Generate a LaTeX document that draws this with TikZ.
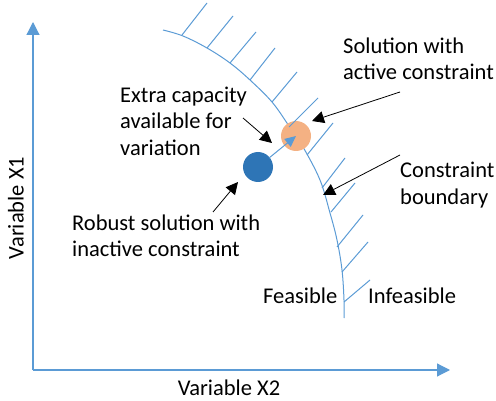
\documentclass[tikz,border=0pt]{standalone}
\usepackage{fontspec}
\setmainfont{Carlito}
\usetikzlibrary{arrows.meta}
\definecolor{axisblue}{HTML}{5B9BD5}
\definecolor{dotblue}{HTML}{2E75B6}
\definecolor{dotorange}{HTML}{F4B183}
\begin{document}
\begin{tikzpicture}[x=1pt,y=-1pt,
  lbl/.style={font=\fontsize{22.5}{26.5}\selectfont, inner sep=0pt, align=left, text=black},
  axisline/.style={draw=axisblue, line width=1.2pt, -{Triangle[length=13pt,width=13pt]}},
  bnd/.style={draw=axisblue, line width=1pt},
  hatch/.style={draw=axisblue, line width=1pt},
  dot/.style={circle, inner sep=0pt, minimum size=30pt},
  callout/.style={draw=black, line width=0.8pt, -{Triangle[length=12pt,width=12pt]}},
  moveline/.style={draw=axisblue, line width=1pt, -{Triangle[length=11pt,width=10pt]}}]
\useasboundingbox (0,0) rectangle (496,401);

% axes
\coordinate (origin) at (33,370);
\coordinate (ytop) at (33,22);
\coordinate (xend) at (450,370);
\draw[axisline] (origin) -- (ytop);
\draw[axisline] (origin) -- (xend);
\node[lbl] (xlab) at (229,388) {Variable X2};
\node[lbl, rotate=90] (ylab) at (16,208) {Variable X1};

% constraint boundary
\draw[bnd] plot[smooth, tension=0.6] coordinates {(163,30) (183,36) (207,48) (230,63) (250,80) (272,102) (289,126) (303,147) (320,180) (330,213) (337,240) (342,270) (344,300) (344,318)};

% infeasible side hatching
\foreach \ax/\ay/\bx/\by in {182/35/207/3, 207/48/233/16, 230/63/256/32, 250/80/275/48, 272/102/297/72,
  307/155/333/123, 322/188/345/158, 331/212/355/183, 337/247/363/215, 342/272/368/242, 344/302/370/280}
  \draw[hatch] (\ax,\ay) -- (\bx,\by);

% solutions
\node[dot, fill=dotorange] (act) at (296,136) {};
\node[dot, fill=dotblue] (rob) at (258,167) {};
\draw[hatch] (289,127) -- (318,98);
\draw[moveline, shorten <=-1pt] (rob) -- (act.center);

% labels
\node[lbl, anchor=west] (soltxt) at (343,59) {Solution with\\active constraint};
\node[lbl, anchor=west] (extratxt) at (120,121) {Extra capacity\\available for\\variation};
\node[lbl, anchor=west] (bndtxt) at (400,185) {Constraint\\boundary};
\node[lbl, anchor=west] (robtxt) at (72,236) {Robust solution with\\inactive constraint};
\node[lbl, anchor=west] (feas) at (263,296) {Feasible};
\node[lbl, anchor=west] (infeas) at (368,296) {Infeasible};

% callout arrows
\coordinate (solA) at (400,92);   \coordinate (solB) at (312,121);
\coordinate (extA) at (243,118);  \coordinate (extB) at (272,143);
\coordinate (bndA) at (400,155);  \coordinate (bndB) at (323,195);
\coordinate (robA) at (213,212);  \coordinate (robB) at (238,182);
\draw[callout] (solA) -- (solB);
\draw[callout] (extA) -- (extB);
\draw[callout] (bndA) -- (bndB);
\draw[callout] (robA) -- (robB);
\end{tikzpicture}
\end{document}
